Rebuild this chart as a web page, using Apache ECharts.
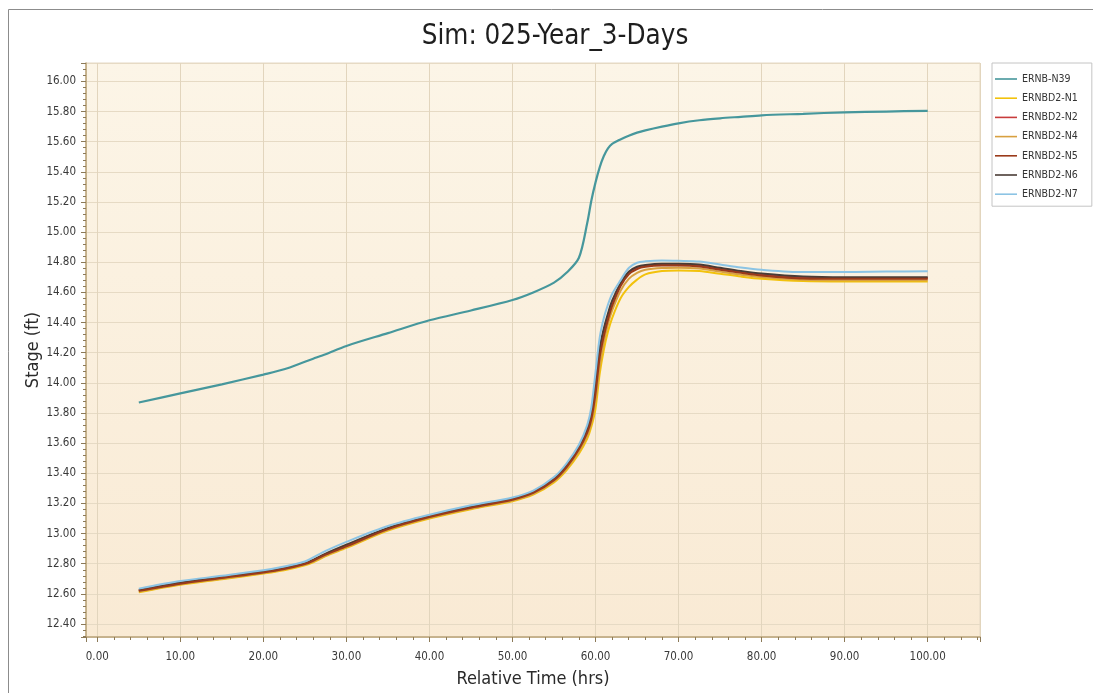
<!DOCTYPE html>
<html>
<head>
<meta charset="utf-8">
<title>Sim: 025-Year_3-Days</title>
<script src="https://cdn.jsdelivr.net/npm/echarts@6/dist/echarts.min.js"></script>
<style>
  html, body { margin: 0; padding: 0; background: #ffffff; }
  #chart { width: 1093px; height: 693px; }
</style>
</head>
<body>
<div id="chart"></div>
<script>
// Relative time of each output step (hrs)
const hours = [5, 10, 15, 20, 22.5, 25, 26, 27.5, 30, 35, 40, 45, 50, 52.5, 55, 56.5, 58, 59, 59.5, 60,
  60.5, 61, 61.5, 62, 63, 64, 65, 66, 68, 70, 72.5, 75, 77.5, 80, 85, 90, 95, 100];

// Stage (ft) at each node
const ernbN39 = [13.87, 13.93, 13.99, 14.055, 14.09, 14.14, 14.16, 14.19, 14.245, 14.33, 14.415, 14.48, 14.55, 14.60, 14.665, 14.73, 14.83, 15.06, 15.21, 15.33,
  15.43, 15.505, 15.555, 15.585, 15.615, 15.64, 15.66, 15.675, 15.70, 15.722, 15.742, 15.755, 15.765, 15.775, 15.785, 15.795, 15.80, 15.805];
const ernbd2N1 = [12.61, 12.66, 12.697, 12.735, 12.757, 12.79, 12.81, 12.85, 12.905, 13.02, 13.10, 13.162, 13.215, 13.258, 13.34, 13.42, 13.53, 13.63, 13.71, 13.83,
  14.06, 14.22, 14.34, 14.43, 14.56, 14.635, 14.685, 14.72, 14.742, 14.746, 14.742, 14.724, 14.705, 14.69, 14.675, 14.672, 14.672, 14.673];
const ernbd2N2 = [12.622, 12.672, 12.708, 12.745, 12.768, 12.80, 12.822, 12.862, 12.92, 13.034, 13.113, 13.175, 13.228, 13.273, 13.36, 13.447, 13.57, 13.685, 13.78, 13.97,
  14.21, 14.34, 14.445, 14.53, 14.65, 14.728, 14.762, 14.776, 14.783, 14.783, 14.777, 14.756, 14.735, 14.718, 14.698, 14.695, 14.695, 14.695];
const ernbd2N4 = [12.615, 12.664, 12.701, 12.738, 12.761, 12.794, 12.814, 12.854, 12.91, 13.025, 13.105, 13.167, 13.22, 13.264, 13.348, 13.43, 13.545, 13.65, 13.735, 13.88,
  14.11, 14.27, 14.39, 14.48, 14.61, 14.69, 14.73, 14.75, 14.762, 14.764, 14.759, 14.738, 14.718, 14.702, 14.684, 14.68, 14.68, 14.68];
const ernbd2N5 = [12.62, 12.668, 12.705, 12.742, 12.765, 12.798, 12.82, 12.86, 12.915, 13.03, 13.11, 13.172, 13.225, 13.27, 13.355, 13.44, 13.56, 13.67, 13.76, 13.93,
  14.17, 14.31, 14.42, 14.51, 14.64, 14.72, 14.755, 14.77, 14.778, 14.778, 14.772, 14.75, 14.73, 14.712, 14.692, 14.69, 14.69, 14.69];
const ernbd2N6 = [12.624, 12.675, 12.711, 12.748, 12.771, 12.803, 12.826, 12.867, 12.926, 13.038, 13.116, 13.178, 13.231, 13.276, 13.364, 13.452, 13.575, 13.695, 13.795, 14.00,
  14.23, 14.36, 14.46, 14.545, 14.66, 14.737, 14.77, 14.782, 14.79, 14.79, 14.785, 14.763, 14.742, 14.725, 14.705, 14.70, 14.70, 14.70];
const ernbd2N7 = [12.635, 12.685, 12.72, 12.757, 12.782, 12.815, 12.842, 12.885, 12.945, 13.05, 13.125, 13.188, 13.24, 13.285, 13.375, 13.465, 13.59, 13.72, 13.84, 14.07,
  14.30, 14.43, 14.52, 14.59, 14.68, 14.762, 14.797, 14.806, 14.812, 14.81, 14.805, 14.785, 14.765, 14.75, 14.735, 14.735, 14.738, 14.74];

const seriesNames = ['ERNB-N39', 'ERNBD2-N1', 'ERNBD2-N2', 'ERNBD2-N4', 'ERNBD2-N5', 'ERNBD2-N6', 'ERNBD2-N7'];
const seriesValues = [ernbN39, ernbd2N1, ernbd2N2, ernbd2N4, ernbd2N5, ernbd2N6, ernbd2N7];
const seriesColors = ['#46979c', '#f2c20c', '#c83c3c', '#d8a040', '#9a3a1a', '#4a3c36', '#8cc4e4'];
// drawing order inside the N1..N7 bundle: brown N5 over the dark N6, light blue N7 on top
const seriesZ = [2, 2, 2, 2, 4, 3, 5];

const FONT = '"DejaVu Sans Condensed", "DejaVu Sans", sans-serif';

const chart = echarts.init(document.getElementById('chart'), null, { renderer: 'canvas' });

const series = seriesNames.map((name, i) => ({
  name: name,
  type: 'line',
  z: seriesZ[i],
  data: hours.map((h, k) => [h, seriesValues[i][k]]),
  showSymbol: false,
  symbol: 'none',
  smooth: 0.3,
  lineStyle: { color: seriesColors[i], width: i === 0 ? 2.2 : 2 },
  itemStyle: { color: seriesColors[i] },
  emphasis: { disabled: true },
  animation: false
}));

const fmt2 = v => v.toFixed(2);

chart.setOption({
  backgroundColor: '#ffffff',
  animation: false,
  title: {
    text: 'Sim: 025-Year_3-Days',
    left: 550,
    top: 18,
    textAlign: 'center',
    textStyle: { fontFamily: FONT, fontSize: 27.5, fontWeight: 'normal', color: '#1e1e1e' }
  },
  graphic: [{
    type: 'rect',
    silent: true,
    z: -10,
    shape: { x: 8.5, y: 9.5, width: 1100, height: 700 },
    style: { fill: 'none', stroke: '#8c8c8c', lineWidth: 1 }
  }],
  legend: {
    orient: 'vertical',
    left: 992,
    top: 63,
    padding: [10, 14, 6, 3],
    icon: 'path://M0,0H22V1.6H0Z',
    itemWidth: 22,
    itemHeight: 12,
    itemGap: 7.2,
    backgroundColor: '#ffffff',
    borderColor: '#c4c4c4',
    borderWidth: 1,
    borderRadius: 0,
    data: seriesNames,
    textStyle: { fontFamily: FONT, fontSize: 10.5, lineHeight: 12, color: '#333333' }
  },
  grid: {
    left: 86,
    right: 113,
    top: 63,
    bottom: 55,
    show: true,
    borderColor: '#e4d9c4',
    borderWidth: 1,
    backgroundColor: {
      type: 'linear', x: 0, y: 0, x2: 0, y2: 1,
      colorStops: [{ offset: 0, color: '#fcf5e7' }, { offset: 1, color: '#f9ead4' }]
    }
  },
  xAxis: {
    type: 'value',
    min: -1.36,
    max: 106.3,
    splitNumber: 11,
    minInterval: 10,
    maxInterval: 10,
    name: 'Relative Time (hrs)',
    nameLocation: 'middle',
    nameGap: 33,
    nameMoveOverlap: false,
    nameTextStyle: { fontFamily: FONT, fontSize: 18, color: '#2a2a2a' },
    axisLine: { show: true, onZero: false, lineStyle: { color: '#bba47a', width: 1.5 } },
    axisTick: { show: true, length: 5, lineStyle: { color: '#8c7a58' } },
    minorTick: { show: true, splitNumber: 5, length: 3, lineStyle: { color: '#8c7a58' } },
    axisLabel: {
      margin: 14,
      showMinLabel: false,
      showMaxLabel: false,
      formatter: fmt2,
      fontFamily: FONT,
      fontSize: 11.5,
      color: '#3a3a3a'
    },
    splitLine: { show: true, lineStyle: { color: '#e2d5bd', width: 1 } }
  },
  yAxis: {
    type: 'value',
    min: 12.314,
    max: 16.122,
    splitNumber: 19,
    minInterval: 0.2,
    maxInterval: 0.2,
    name: 'Stage (ft)',
    nameLocation: 'middle',
    nameGap: 44,
    nameMoveOverlap: false,
    nameTextStyle: { fontFamily: FONT, fontSize: 18, color: '#2a2a2a' },
    axisLine: { show: true, onZero: false, lineStyle: { color: '#bba47a', width: 1.5 } },
    axisTick: { show: true, length: 5, lineStyle: { color: '#8c7a58' } },
    minorTick: { show: true, splitNumber: 5, length: 3, lineStyle: { color: '#8c7a58' } },
    axisLabel: {
      margin: 10,
      showMinLabel: false,
      showMaxLabel: false,
      formatter: fmt2,
      fontFamily: FONT,
      fontSize: 11.5,
      color: '#3a3a3a'
    },
    splitLine: { show: true, lineStyle: { color: '#e6dac4', width: 1 } }
  },
  series: series
});
</script>
</body>
</html>
